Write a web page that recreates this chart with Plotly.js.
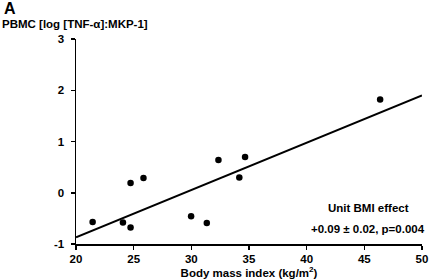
<!DOCTYPE html>
<html><head><meta charset="utf-8">
<script src="https://cdn.plot.ly/plotly-3.0.1.min.js"></script>
<style>html,body{margin:0;padding:0;background:#fff}#chart{width:430px;height:279px}</style>
</head><body><div id="chart"></div>
<script>
const bmi = [21.44, 24.07, 24.73, 24.73, 25.85, 29.98, 31.34, 32.35, 34.16, 34.66, 46.37];
const ratio = [-0.57, -0.58, -0.68, 0.19, 0.29, -0.46, -0.59, 0.64, 0.30, 0.70, 1.82];
const fitX = [20, 50];
const fitY = [-0.87, 1.90];
const xTicks = [20, 25, 30, 35, 40, 45, 50];
const yTicks = [-1, 0, 1, 2, 3];
const panelLabel = 'A';
const yTitle = 'PBMC [log [TNF-α]:MKP-1]';
const xTitle = 'Body mass index (kg/m<sup>2</sup>)';
const effectTitle = 'Unit BMI effect';
const effectText = '+0.09 ± 0.02, p=0.004';

const F = 'Liberation Sans, Arial, sans-serif';
// plot area in pixels: x 76..422, y 39..244
const px = p => (p - 76) / 346;
const py = p => (244 - p) / 205;
const data = [
  {x: fitX, y: fitY, mode: 'lines', line: {color: '#000', width: 2}, hoverinfo: 'skip'},
  {x: bmi, y: ratio, mode: 'markers', marker: {color: '#000', size: 6.5}}
];
const axisCommon = {
  showgrid: false, zeroline: false, showline: true, linecolor: '#000', linewidth: 1.5,
  ticks: 'outside', ticklen: 4, tickwidth: 1.5, tickcolor: '#000',
  tickfont: {family: F, size: 11.5, color: '#000', weight: 'bold'}
};
const layout = {
  width: 430, height: 279,
  margin: {l: 76, r: 8, t: 39, b: 35},
  paper_bgcolor: '#fff', plot_bgcolor: '#fff',
  showlegend: false,
  xaxis: Object.assign({}, axisCommon, {range: [20, 50], tickvals: xTicks, ticktext: xTicks.map(String),
    title: {text: xTitle, font: {family: F, size: 11.5, color: '#000', weight: 'bold'}, standoff: 3}}),
  yaxis: Object.assign({}, axisCommon, {range: [-1, 3], tickvals: yTicks, ticktext: yTicks.map(String), ticklabelstandoff: 4}),
  annotations: [
    {text: '<b>' + panelLabel + '</b>', xref: 'paper', yref: 'paper', x: px(2), y: py(8.5), xanchor: 'left', yanchor: 'middle',
      showarrow: false, font: {family: F, size: 16, color: '#000'}},
    {text: '<b>' + yTitle + '</b>', xref: 'paper', yref: 'paper', x: px(0), y: py(24.5), xanchor: 'left', yanchor: 'middle',
      showarrow: false, font: {family: F, size: 11.5, color: '#000'}},
    {text: '<b>' + effectTitle + '</b>', xref: 'paper', yref: 'paper', x: px(368), y: py(208), xanchor: 'center', yanchor: 'middle',
      showarrow: false, font: {family: F, size: 11.5, color: '#000'}},
    {text: '<b>' + effectText + '</b>', xref: 'paper', yref: 'paper', x: px(427), y: py(229), xanchor: 'right', yanchor: 'middle',
      showarrow: false, font: {family: F, size: 11.5, color: '#000'}}
  ]
};
Plotly.newPlot('chart', data, layout, {displayModeBar: false, staticPlot: true});
</script></body></html>
